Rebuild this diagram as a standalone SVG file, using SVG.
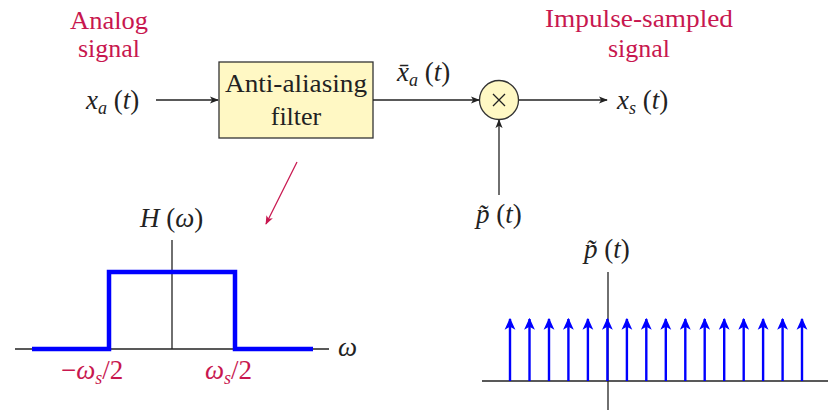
<svg xmlns="http://www.w3.org/2000/svg" width="834" height="411" viewBox="0 0 834 411">
<defs>
<style>
text{font-family:"Liberation Serif","DejaVu Serif","Times New Roman",serif;font-size:26px;fill:#222}
.r{fill:#c8174f}
.m{font-size:27px}
.i{font-style:italic}
.s{font-size:18px;font-style:italic}
.ln{stroke:#222;stroke-width:1.3;fill:none}
.bl{stroke:#0000ff;stroke-width:4.5;fill:none}
.ba{stroke:#0000ff;stroke-width:2.4}
</style>
<marker id="ah" viewBox="0 0 10 10" refX="9" refY="5" markerWidth="9" markerHeight="9" markerUnits="userSpaceOnUse" orient="auto"><path d="M0,1 L10,5 L0,9 L2.5,5 Z" fill="#222"/></marker>
<marker id="ahr" viewBox="0 0 10 10" refX="9" refY="5" markerWidth="9" markerHeight="9" markerUnits="userSpaceOnUse" orient="auto"><path d="M0,1 L10,5 L0,9 L2.5,5 Z" fill="#c8174f"/></marker>
<marker id="ahb" viewBox="0 0 10 10" refX="9" refY="5" markerWidth="12" markerHeight="12" markerUnits="userSpaceOnUse" orient="auto"><path d="M0,0.5 L10,5 L0,9.5 L2.5,5 Z" fill="#0000ff"/></marker>
</defs>
<g id="analog-label" text-anchor="middle">
<text class="r" x="109" y="29" textLength="78" lengthAdjust="spacingAndGlyphs">Analog</text>
<text class="r" x="109" y="57">signal</text>
</g>
<g id="input">
<text class="m" x="86" y="109"><tspan class="i">x</tspan><tspan class="s" dy="5">a</tspan><tspan dy="-5"> (</tspan><tspan class="i">t</tspan>)</text>
</g>
<g id="filter">
<rect x="219" y="62" width="154" height="76" fill="#fff8c4" stroke="#333" stroke-width="1.3"/>
<text x="296" y="92" text-anchor="middle" textLength="142" lengthAdjust="spacingAndGlyphs">Anti-aliasing</text>
<text x="296" y="125" text-anchor="middle">filter</text>
</g>
<g id="multiplier">
<circle cx="499" cy="100" r="19.5" fill="#fff8c4" stroke="#333" stroke-width="1.3"/>
<path d="M493,94 L505,106 M505,94 L493,106" stroke="#222" stroke-width="1.3"/>
</g>
<g id="impulse-label" text-anchor="middle">
<text class="r" x="639" y="27" textLength="188" lengthAdjust="spacingAndGlyphs">Impulse-sampled</text>
<text class="r" x="639" y="57">signal</text>
</g>
<g id="output">
<text class="m" x="617" y="109"><tspan class="i">x</tspan><tspan class="s" dy="5">s</tspan><tspan dy="-5"> (</tspan><tspan class="i">t</tspan>)</text>
</g>
<g id="xbar">
<text class="m" x="397" y="81"><tspan class="i">x̄</tspan><tspan class="s" dy="5">a</tspan><tspan dy="-5"> (</tspan><tspan class="i">t</tspan>)</text>
</g>
<g id="p-input">
<text class="m" x="476" y="223"><tspan class="i">p̃</tspan> (<tspan class="i">t</tspan>)</text>
</g>
<g id="connectors">
<line class="ln" x1="156" y1="100" x2="218" y2="100" marker-end="url(#ah)"/>
<line class="ln" x1="373" y1="100" x2="479" y2="100" marker-end="url(#ah)"/>
<line class="ln" x1="519" y1="100" x2="607" y2="100" marker-end="url(#ah)"/>
<line class="ln" x1="499" y1="195" x2="499" y2="120" marker-end="url(#ah)"/>
<line x1="297" y1="162" x2="266" y2="224" stroke="#c8174f" stroke-width="1.3" marker-end="url(#ahr)"/>
</g>
<g id="filter-plot">
<line class="ln" x1="15" y1="349" x2="329" y2="349"/>
<line class="ln" x1="172" y1="240" x2="172" y2="349"/>
<polyline class="bl" points="32,349 109,349 109,272 235,272 235,349 313,349"/>
<text class="m" x="140" y="227"><tspan class="i">H</tspan> (<tspan class="i">ω</tspan>)</text>
<text class="m i" x="338" y="356">ω</text>
<text class="m r" x="61" y="379">−<tspan class="i">ω</tspan><tspan class="s" dy="5">s</tspan><tspan dy="-5">/2</tspan></text>
<text class="m r" x="205" y="379"><tspan class="i">ω</tspan><tspan class="s" dy="5">s</tspan><tspan dy="-5">/2</tspan></text>
</g>
<g id="impulse-plot">
<line class="ln" x1="482" y1="381" x2="828" y2="381"/>
<line class="ln" x1="608" y1="272" x2="608" y2="410"/>
<g class="ba" marker-end="url(#ahb)">
<line x1="510" y1="381" x2="510" y2="319"/>
<line x1="529.5" y1="381" x2="529.5" y2="319"/>
<line x1="549" y1="381" x2="549" y2="319"/>
<line x1="568.4" y1="381" x2="568.4" y2="319"/>
<line x1="587.9" y1="381" x2="587.9" y2="319"/>
<line x1="607.4" y1="381" x2="607.4" y2="319"/>
<line x1="626.9" y1="381" x2="626.9" y2="319"/>
<line x1="646.3" y1="381" x2="646.3" y2="319"/>
<line x1="665.8" y1="381" x2="665.8" y2="319"/>
<line x1="685.3" y1="381" x2="685.3" y2="319"/>
<line x1="704.7" y1="381" x2="704.7" y2="319"/>
<line x1="724.2" y1="381" x2="724.2" y2="319"/>
<line x1="743.7" y1="381" x2="743.7" y2="319"/>
<line x1="763.1" y1="381" x2="763.1" y2="319"/>
<line x1="782.6" y1="381" x2="782.6" y2="319"/>
<line x1="802" y1="381" x2="802" y2="319"/>
</g>
<text class="m" x="584" y="258"><tspan class="i">p̃</tspan> (<tspan class="i">t</tspan>)</text>
</g>
</svg>
